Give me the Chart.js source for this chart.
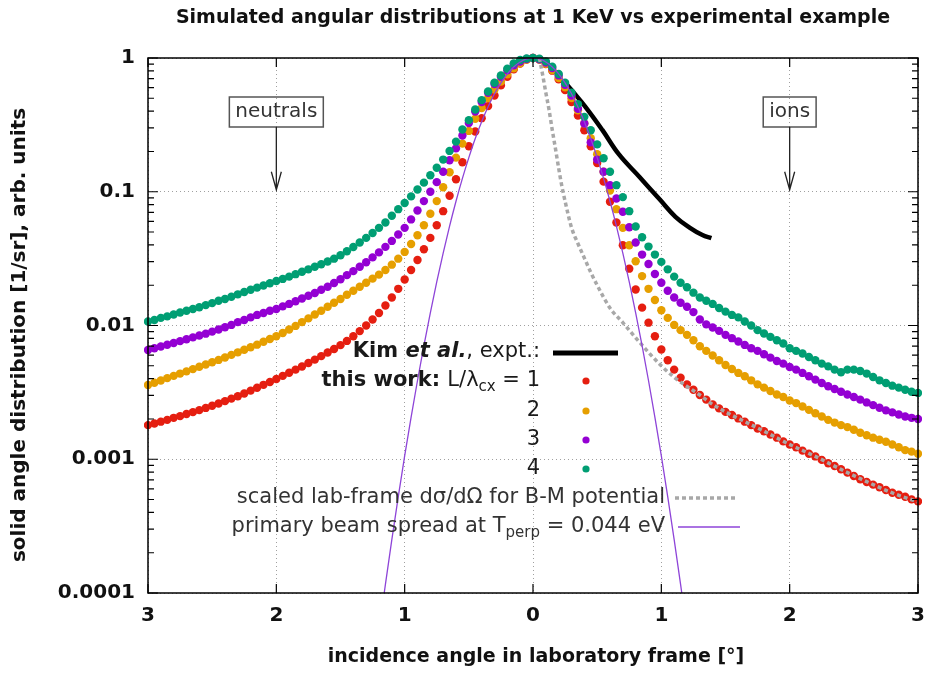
<!DOCTYPE html>
<html>
<head>
<meta charset="utf-8">
<script src="https://cdn.jsdelivr.net/npm/chart.js@4.4.1/dist/chart.umd.min.js"></script>
<style>
html, body { margin: 0; padding: 0; background: #fff; }
#wrap { width: 926px; height: 673px; position: relative; }
</style>
</head>
<body>
<div id="wrap"><canvas id="myChart" width="926" height="673"></canvas></div>
<script>
// incidence angles of the simulated points (deg)
const angles = [
  -3.00, -2.95, -2.90, -2.85, -2.80, -2.75, -2.70, -2.65, -2.60, -2.55,
  -2.50, -2.45, -2.40, -2.35, -2.30, -2.25, -2.20, -2.15, -2.10, -2.05,
  -2.00, -1.95, -1.90, -1.85, -1.80, -1.75, -1.70, -1.65, -1.60, -1.55,
  -1.50, -1.45, -1.40, -1.35, -1.30, -1.25, -1.20, -1.15, -1.10, -1.05,
  -1.00, -0.95, -0.90, -0.85, -0.80, -0.75, -0.70, -0.65, -0.60, -0.55,
  -0.50, -0.45, -0.40, -0.35, -0.30, -0.25, -0.20, -0.15, -0.10, -0.05,
  0.00,
  0.05, 0.10, 0.15, 0.20, 0.25, 0.30, 0.35, 0.40, 0.45, 0.50,
  0.55, 0.60, 0.65, 0.70, 0.75, 0.80, 0.85, 0.90, 0.95, 1.00,
  1.05, 1.10, 1.15, 1.20, 1.25, 1.30, 1.35, 1.40, 1.45, 1.50,
  1.55, 1.60, 1.65, 1.70, 1.75, 1.80, 1.85, 1.90, 1.95, 2.00,
  2.05, 2.10, 2.15, 2.20, 2.25, 2.30, 2.35, 2.40, 2.45, 2.50,
  2.55, 2.60, 2.65, 2.70, 2.75, 2.80, 2.85, 2.90, 2.95, 3.00
];

// this work, L/lambda_cx = 1
const work1 = [
  0.00180, 0.00185, 0.00191, 0.00197, 0.00204, 0.00210, 0.00218, 0.00225, 0.00233, 0.00242,
  0.00251, 0.00261, 0.00272, 0.00284, 0.00296, 0.00310, 0.00326, 0.00342, 0.00360, 0.00378,
  0.00398, 0.00420, 0.00443, 0.00468, 0.00494, 0.00524, 0.00556, 0.00590, 0.00628, 0.00668,
  0.00713, 0.00767, 0.00832, 0.00908, 0.0100, 0.0111, 0.0124, 0.0141, 0.0162, 0.0188,
  0.0221, 0.0260, 0.0309, 0.0372, 0.0452, 0.0562, 0.0716, 0.0933, 0.124, 0.166,
  0.219, 0.282, 0.355, 0.437, 0.525, 0.624, 0.724, 0.822, 0.908, 0.973,
  1.00,
  0.973, 0.902, 0.804, 0.692, 0.575, 0.468, 0.372, 0.288, 0.219, 0.164,
  0.119, 0.0841, 0.0589, 0.0398, 0.0266, 0.0186, 0.0136, 0.0105, 0.00832, 0.00661,
  0.00550, 0.00468, 0.00407, 0.00363, 0.00331, 0.00302, 0.00279, 0.00257, 0.00240, 0.00226,
  0.00214, 0.00202, 0.00191, 0.00180, 0.00170, 0.00162, 0.00153, 0.00145, 0.00136, 0.00129,
  0.00123, 0.00116, 0.00110, 0.00105, 0.000989, 0.000933, 0.000891, 0.000841, 0.000794, 0.000750,
  0.000708, 0.000676, 0.000646, 0.000617, 0.000589, 0.000562, 0.000543, 0.000525, 0.000501, 0.000484
];

// L/lambda_cx = 2
const work2 = [
  0.00359, 0.00373, 0.00388, 0.00404, 0.00420, 0.00437, 0.00454, 0.00472, 0.00491, 0.00511,
  0.00531, 0.00553, 0.00577, 0.00603, 0.00630, 0.00658, 0.00687, 0.00719, 0.00755, 0.00793,
  0.00832, 0.00879, 0.00933, 0.00993, 0.0106, 0.0113, 0.0121, 0.0129, 0.0138, 0.0148,
  0.0158, 0.0170, 0.0182, 0.0195, 0.0209, 0.0224, 0.0240, 0.0260, 0.0285, 0.0316,
  0.0355, 0.0407, 0.0473, 0.0562, 0.0684, 0.0851, 0.108, 0.140, 0.180, 0.229,
  0.285, 0.351, 0.422, 0.501, 0.582, 0.668, 0.755, 0.838, 0.912, 0.973,
  1.00,
  0.973, 0.906, 0.813, 0.708, 0.603, 0.501, 0.407, 0.324, 0.251, 0.191,
  0.141, 0.102, 0.0741, 0.0537, 0.0398, 0.0302, 0.0234, 0.0188, 0.0155, 0.0130,
  0.0114, 0.0101, 0.00923, 0.00851, 0.00776, 0.00700, 0.00646, 0.00596, 0.00550, 0.00507,
  0.00473, 0.00442, 0.00417, 0.00389, 0.00363, 0.00343, 0.00324, 0.00305, 0.00292, 0.00275,
  0.00263, 0.00248, 0.00234, 0.00221, 0.00209, 0.00197, 0.00188, 0.00180, 0.00174, 0.00166,
  0.00158, 0.00151, 0.00145, 0.00140, 0.00135, 0.00129, 0.00123, 0.00117, 0.00114, 0.00110
];

// L/lambda_cx = 3
const work3 = [
  0.00656, 0.00676, 0.00697, 0.00718, 0.00740, 0.00764, 0.00789, 0.00815, 0.00841, 0.00869,
  0.00900, 0.00933, 0.00971, 0.0101, 0.0106, 0.0110, 0.0115, 0.0120, 0.0124, 0.0129,
  0.0133, 0.0139, 0.0145, 0.0152, 0.0159, 0.0167, 0.0175, 0.0185, 0.0195, 0.0208,
  0.0222, 0.0238, 0.0255, 0.0275, 0.0297, 0.0323, 0.0352, 0.0387, 0.0429, 0.0479,
  0.0537, 0.0621, 0.0724, 0.0851, 0.100, 0.118, 0.141, 0.172, 0.211, 0.263,
  0.326, 0.398, 0.468, 0.550, 0.638, 0.724, 0.809, 0.881, 0.940, 0.982,
  1.00,
  0.977, 0.923, 0.841, 0.741, 0.631, 0.525, 0.417, 0.324, 0.234, 0.174,
  0.141, 0.112, 0.0891, 0.0708, 0.0543, 0.0417, 0.0339, 0.0288, 0.0243, 0.0209,
  0.0182, 0.0162, 0.0148, 0.0138, 0.0126, 0.0111, 0.0102, 0.00966, 0.00912, 0.00851,
  0.00804, 0.00759, 0.00716, 0.00676, 0.00646, 0.00610, 0.00575, 0.00543, 0.00519, 0.00490,
  0.00468, 0.00442, 0.00417, 0.00394, 0.00372, 0.00351, 0.00335, 0.00320, 0.00305, 0.00292,
  0.00279, 0.00266, 0.00254, 0.00243, 0.00232, 0.00224, 0.00216, 0.00209, 0.00204, 0.00200
];

// L/lambda_cx = 4
const work4 = [
  0.0107, 0.0110, 0.0114, 0.0117, 0.0121, 0.0125, 0.0129, 0.0133, 0.0137, 0.0142,
  0.0147, 0.0153, 0.0158, 0.0164, 0.0171, 0.0178, 0.0185, 0.0192, 0.0199, 0.0207,
  0.0215, 0.0223, 0.0232, 0.0242, 0.0252, 0.0263, 0.0275, 0.0287, 0.0301, 0.0316,
  0.0335, 0.0359, 0.0386, 0.0417, 0.0452, 0.0492, 0.0537, 0.0589, 0.0661, 0.0741,
  0.0824, 0.0923, 0.104, 0.117, 0.133, 0.151, 0.174, 0.202, 0.237, 0.292,
  0.343, 0.412, 0.484, 0.562, 0.653, 0.741, 0.832, 0.912, 0.966, 0.993,
  1.00,
  0.989, 0.944, 0.861, 0.759, 0.653, 0.550, 0.452, 0.363, 0.288, 0.226,
  0.178, 0.141, 0.112, 0.0912, 0.0716, 0.0550, 0.0457, 0.0389, 0.0339, 0.0299,
  0.0263, 0.0232, 0.0209, 0.0193, 0.0176, 0.0162, 0.0153, 0.0145, 0.0135, 0.0127,
  0.0120, 0.0115, 0.0107, 0.0100, 0.00923, 0.00871, 0.00822, 0.00776, 0.00733, 0.00676,
  0.00646, 0.00617, 0.00582, 0.00550, 0.00519, 0.00495, 0.00468, 0.00447, 0.00468, 0.00468,
  0.00457, 0.00437, 0.00412, 0.00389, 0.00372, 0.00355, 0.00343, 0.00331, 0.00320, 0.00313
];

// Kim et al. experiment
const kimAngles = [0.25, 0.30, 0.41, 0.54, 0.67, 0.83, 0.99, 1.11, 1.22, 1.32, 1.39];
const kimValues = [0.66, 0.576, 0.43, 0.29, 0.19, 0.129, 0.087, 0.065, 0.054, 0.0475, 0.045];

// scaled lab-frame dsigma/dOmega, B-M potential
const bmAngles = [0.05, 0.075, 0.10, 0.125, 0.15, 0.175, 0.20, 0.225, 0.25, 0.30, 0.35, 0.40, 0.45, 0.50,
  0.60, 0.70, 0.80, 0.90, 1.00, 1.10, 1.20, 1.30, 1.40, 1.50, 1.60, 1.80, 2.00, 2.20, 2.40, 2.60, 2.80, 3.00];
const bmValues = [1.00, 0.75, 0.55, 0.41, 0.29, 0.21, 0.15, 0.11, 0.085, 0.054, 0.041, 0.032, 0.025, 0.020,
  0.0135, 0.0105, 0.0081, 0.0063, 0.0050, 0.0041, 0.0035, 0.00302, 0.00257, 0.00226, 0.00202, 0.00162,
  0.00129, 0.00105, 0.00084, 0.00068, 0.00056, 0.00048];

// primary beam spread at T_perp = 0.044 eV
const beamAngles = [-1.20, -1.15, -1.10, -1.05, -1.00, -0.95, -0.90, -0.85, -0.80, -0.75, -0.70, -0.65, -0.60,
  -0.55, -0.50, -0.45, -0.40, -0.35, -0.30, -0.25, -0.20, -0.15, -0.10, -0.05, 0.00,
  0.05, 0.10, 0.15, 0.20, 0.25, 0.30, 0.35, 0.40, 0.45, 0.50, 0.55, 0.60, 0.65, 0.70, 0.75,
  0.80, 0.85, 0.90, 0.95, 1.00, 1.05, 1.10, 1.15, 1.20];
const beamValues = [0.0000519, 0.000116, 0.000251, 0.000524, 0.00106, 0.00206, 0.00388, 0.00708, 0.01245,
  0.0212, 0.0348, 0.0553, 0.0849, 0.126, 0.180, 0.250, 0.334, 0.432, 0.540, 0.652, 0.760, 0.857, 0.934,
  0.983, 1.00,
  0.983, 0.934, 0.857, 0.760, 0.652, 0.540, 0.432, 0.334, 0.250, 0.180, 0.126, 0.0849, 0.0553, 0.0348,
  0.0212, 0.01245, 0.00708, 0.00388, 0.00206, 0.00106, 0.000524, 0.000251, 0.000116, 0.0000519];

const xTicks = [-3, -2, -1, 0, 1, 2, 3];
const yTicks = [0.0001, 0.001, 0.01, 0.1, 1];
const yTickLabels = ['0.0001', '0.001', '0.01', '0.1', '1'];

const FONT = "'DejaVu Sans', sans-serif";
const RED = '#e51e10', ORANGE = '#e69f00', PURPLE = '#9400d3', GREEN = '#009e73';

const toPoints = (xs, ys) => xs.map((x, i) => ({ x: x, y: ys[i] }));

function dotSet(label, values, color, order) {
  return {
    label: label,
    data: toPoints(angles, values),
    backgroundColor: color,
    borderColor: color,
    borderWidth: 0,
    pointRadius: 4.2,
    pointHoverRadius: 4.2,
    showLine: false,
    order: order,
    clip: { left: 4, right: 4, top: 6, bottom: 0 }
  };
}

// draw text built from several styled pieces, right aligned at x
function richText(ctx, parts, xRight, y) {
  let total = 0;
  parts.forEach(p => { ctx.font = p.font; total += ctx.measureText(p.t).width; });
  let x = xRight - total;
  parts.forEach(p => {
    ctx.font = p.font;
    ctx.fillText(p.t, x, y + (p.dy || 0));
    x += ctx.measureText(p.t).width;
  });
}

function labelArrow(ctx, text, cx, tipY) {
  ctx.font = '20px ' + FONT;
  const w = ctx.measureText(text).width + 12;
  ctx.strokeStyle = '#555';
  ctx.lineWidth = 1.5;
  ctx.strokeRect(cx - w / 2, 97, w, 30);
  ctx.fillStyle = '#333';
  ctx.textAlign = 'center';
  ctx.textBaseline = 'middle';
  ctx.fillText(text, cx, 112);
  ctx.strokeStyle = '#222';
  ctx.lineWidth = 1.3;
  ctx.beginPath();
  ctx.moveTo(cx, 127);
  ctx.lineTo(cx, tipY);
  ctx.moveTo(cx - 5, tipY - 18);
  ctx.lineTo(cx, tipY);
  ctx.lineTo(cx + 5, tipY - 18);
  ctx.stroke();
}

const decorations = {
  id: 'decorations',
  afterDraw(chart) {
    const ctx = chart.ctx;
    const a = chart.chartArea;
    const xs = chart.scales.x, ys = chart.scales.y;
    ctx.save();

    // frame
    ctx.strokeStyle = '#000';
    ctx.lineWidth = 1.5;
    ctx.strokeRect(a.left, a.top, a.right - a.left, a.bottom - a.top);

    // ticks on all four sides, pointing inwards
    ctx.lineWidth = 1.2;
    ctx.beginPath();
    xTicks.forEach(v => {
      const px = xs.getPixelForValue(v);
      ctx.moveTo(px, a.bottom); ctx.lineTo(px, a.bottom - 9);
      ctx.moveTo(px, a.top); ctx.lineTo(px, a.top + 9);
    });
    yTicks.forEach(v => {
      for (let m = 1; m <= 9; m++) {
        const val = v * m;
        if (val > 1.0001) break;
        const py = ys.getPixelForValue(val);
        const len = m === 1 ? 10 : 6;
        ctx.moveTo(a.left, py); ctx.lineTo(a.left + len, py);
        ctx.moveTo(a.right, py); ctx.lineTo(a.right - len, py);
      }
    });
    ctx.stroke();

    // titles
    ctx.fillStyle = '#111';
    ctx.textAlign = 'center';
    ctx.textBaseline = 'middle';
    ctx.font = 'bold 19px ' + FONT;
    ctx.fillText('Simulated angular distributions at 1 KeV vs experimental example', 533, 18);
    ctx.font = 'bold 19px ' + FONT;
    ctx.fillText('incidence angle in laboratory frame [°]', 536, 657);
    ctx.save();
    ctx.translate(20, 335);
    ctx.rotate(-Math.PI / 2);
    ctx.font = 'bold 20px ' + FONT;
    ctx.fillText('solid angle distribution [1/sr], arb. units', 0, 0);
    ctx.restore();

    // neutrals / ions markers
    labelArrow(ctx, 'neutrals', xs.getPixelForValue(-2), ys.getPixelForValue(0.1) - 2);
    labelArrow(ctx, 'ions', xs.getPixelForValue(2), ys.getPixelForValue(0.1) - 2);

    // key
    const reg = '21px ' + FONT, bold = 'bold 21px ' + FONT, sub = '15px ' + FONT;
    ctx.textAlign = 'left';
    ctx.textBaseline = 'middle';
    ctx.fillStyle = '#1a1a1a';
    richText(ctx, [
      { t: 'Kim ', font: bold },
      { t: 'et al.', font: 'italic ' + bold },
      { t: ', expt.:', font: reg }
    ], 540, 352);
    richText(ctx, [
      { t: 'this work: ', font: bold },
      { t: 'L/λ', font: reg },
      { t: 'cx', font: sub, dy: 6 },
      { t: ' = 1', font: reg }
    ], 540, 381);
    richText(ctx, [{ t: '2', font: reg }], 540, 411);
    richText(ctx, [{ t: '3', font: reg }], 540, 440);
    richText(ctx, [{ t: '4', font: reg }], 540, 469);
    ctx.fillStyle = '#333';
    richText(ctx, [{ t: 'scaled lab-frame dσ/dΩ for B-M potential', font: reg }], 665, 498);
    richText(ctx, [
      { t: 'primary beam spread at T', font: reg },
      { t: 'perp', font: sub, dy: 6 },
      { t: ' = 0.044 eV', font: reg }
    ], 665, 527);

    // key samples
    ctx.lineCap = 'butt';
    ctx.strokeStyle = '#000';
    ctx.lineWidth = 5;
    ctx.beginPath(); ctx.moveTo(553, 353); ctx.lineTo(618, 353); ctx.stroke();
    [[RED, 381], [ORANGE, 411], [PURPLE, 440], [GREEN, 469]].forEach(d => {
      ctx.fillStyle = d[0];
      ctx.beginPath(); ctx.arc(586, d[1], 3.6, 0, Math.PI * 2); ctx.fill();
    });
    ctx.strokeStyle = '#a8a8a8';
    ctx.lineWidth = 3.5;
    ctx.setLineDash([4, 3]);
    ctx.beginPath(); ctx.moveTo(675, 498); ctx.lineTo(737, 498); ctx.stroke();
    ctx.setLineDash([]);
    ctx.strokeStyle = '#8e44d8';
    ctx.lineWidth = 1.3;
    ctx.beginPath(); ctx.moveTo(678, 527); ctx.lineTo(740, 527); ctx.stroke();

    ctx.restore();
  }
};

const ctx = document.getElementById('myChart').getContext('2d');
const myChart = new Chart(ctx, {
  type: 'scatter',
  data: {
    datasets: [
      {
        label: 'primary beam spread',
        data: toPoints(beamAngles, beamValues),
        showLine: true,
        borderColor: '#8e44d8',
        borderWidth: 1.3,
        pointRadius: 0,
        cubicInterpolationMode: 'monotone',
        order: 0
      },
      {
        label: 'B-M potential',
        data: toPoints(bmAngles, bmValues),
        showLine: true,
        borderColor: '#a8a8a8',
        borderWidth: 3.5,
        borderDash: [4, 3],
        pointRadius: 0,
        cubicInterpolationMode: 'monotone',
        order: 1
      },
      dotSet('L/λcx = 4', work4, GREEN, 2),
      dotSet('L/λcx = 3', work3, PURPLE, 3),
      dotSet('L/λcx = 2', work2, ORANGE, 4),
      dotSet('L/λcx = 1', work1, RED, 5),
      {
        label: 'Kim et al., expt.',
        data: toPoints(kimAngles, kimValues),
        showLine: true,
        borderColor: '#000',
        borderWidth: 4.5,
        pointRadius: 0,
        tension: 0.4,
        order: 6
      }
    ]
  },
  options: {
    responsive: false,
    animation: false,
    layout: { padding: { left: 0, right: 8, top: 58, bottom: 0 } },
    plugins: {
      legend: { display: false },
      tooltip: { enabled: false },
      title: { display: false }
    },
    scales: {
      x: {
        type: 'linear',
        min: -3,
        max: 3,
        afterBuildTicks: s => { s.ticks = xTicks.map(v => ({ value: v })); },
        afterFit: s => { s.height = 80; s.paddingLeft = 0; s.paddingRight = 0; },
        ticks: {
          callback: v => String(Math.abs(v)),
          font: { family: FONT, size: 20, weight: 'bold' },
          color: '#111',
          padding: 11,
          maxRotation: 0,
          autoSkip: false
        },
        grid: { color: '#a0a0a0', lineWidth: 1, drawTicks: false },
        border: { display: false, dash: [1, 3] }
      },
      y: {
        type: 'logarithmic',
        min: 0.0001,
        max: 1,
        afterBuildTicks: s => { s.ticks = yTicks.map(v => ({ value: v })); },
        afterFit: s => { s.width = 148; s.paddingTop = 0; s.paddingBottom = 0; },
        ticks: {
          callback: (v, i) => yTickLabels[i],
          font: { family: FONT, size: 20, weight: 'bold' },
          color: '#111',
          padding: 13,
          autoSkip: false
        },
        grid: { color: '#a0a0a0', lineWidth: 1, drawTicks: false },
        border: { display: false, dash: [1, 3] }
      }
    }
  },
  plugins: [decorations]
});
</script>
</body>
</html>
